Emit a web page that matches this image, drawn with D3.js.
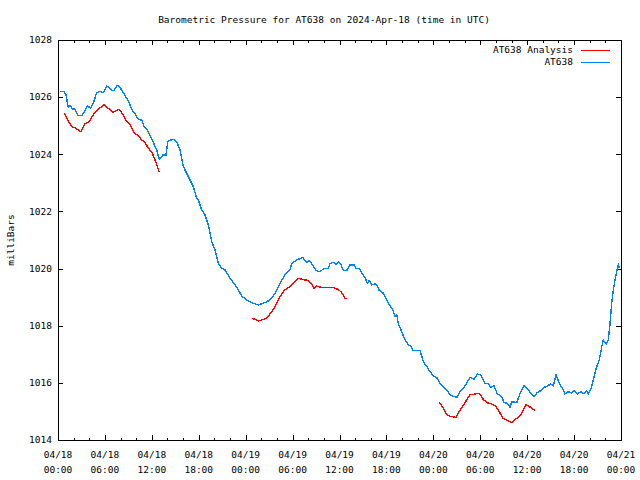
<!DOCTYPE html>
<html><head><meta charset="utf-8">
<script src="https://cdn.jsdelivr.net/npm/d3@7/dist/d3.min.js"></script>
<style>body{margin:0;background:#fff}svg{display:block}</style>
</head><body><svg id="c" width="640" height="480"></svg>
<script>
const title = "Barometric Pressure for AT638 on 2024-Apr-18 (time in UTC)";
const yLabel = "milliBars";
const seriesNames = ["AT638 Analysis", "AT638"];
const seriesColors = ["#ff0000", "#0080ff"];
const xTickHours = [0, 6, 12, 18, 24, 30, 36, 42, 48, 54, 60, 66, 72];
const xTickDates = ["04/18","04/18","04/18","04/18","04/19","04/19","04/19","04/19","04/20","04/20","04/20","04/20","04/21"];
const xTickTimes = ["00:00","06:00","12:00","18:00","00:00","06:00","12:00","18:00","00:00","06:00","12:00","18:00","00:00"];
const yTicks = [1014, 1016, 1018, 1020, 1022, 1024, 1026, 1028];

// AT638 observations: hours since 2024-04-18 00:00 UTC, pressure in mb
const obsHours = [0.26,0.77,1.02,1.32,1.53,1.83,2.14,2.60,3.03,3.45,3.75,4.18,4.51,4.95,5.37,5.79,6.23,6.43,6.87,7.16,7.58,7.93,8.35,8.70,8.99,9.43,9.85,10.27,10.71,11.00,11.42,11.86,12.28,12.62,12.96,13.39,13.81,14.03,14.41,14.75,15.18,15.60,16.03,16.46,16.88,17.30,17.74,17.94,18.38,18.80,19.22,19.66,20.08,20.50,20.94,21.36,22.00,22.64,23.06,23.49,24.13,24.98,25.62,26.48,27.11,27.75,28.39,29.03,29.67,29.89,30.53,31.30,31.81,32.14,32.65,33.00,33.51,34.02,34.57,34.79,35.21,35.56,35.85,36.16,36.49,36.92,37.35,37.86,38.11,38.54,38.84,39.27,39.56,39.81,40.12,40.54,40.84,41.09,41.53,41.82,42.46,42.81,43.10,43.32,43.52,43.96,44.38,44.80,45.11,45.37,46.30,46.72,47.16,47.58,48.00,48.43,48.86,49.28,49.71,50.05,50.56,51.07,51.42,52.05,52.69,53.20,53.63,54.06,54.61,55.03,55.34,55.76,56.19,56.75,57.04,57.46,57.81,58.03,58.67,59.09,59.60,60.02,60.46,60.88,61.30,61.74,62.16,62.58,63.01,63.35,63.69,64.12,64.55,64.84,65.27,65.70,65.99,66.42,66.85,67.27,67.62,67.82,68.26,68.55,68.90,69.23,69.54,69.74,70.09,70.38,70.60,70.81,71.02,71.24,71.45,71.66,71.79];
const obsValues = [1026.20,1026.20,1026.08,1025.64,1025.71,1025.59,1025.59,1025.35,1025.35,1025.53,1025.70,1025.61,1025.78,1026.16,1026.20,1026.16,1026.39,1026.37,1026.23,1026.23,1026.41,1026.34,1026.16,1025.99,1025.88,1025.57,1025.41,1025.22,1025.20,1024.97,1024.85,1024.62,1024.36,1024.15,1023.82,1023.97,1023.97,1024.44,1024.50,1024.52,1024.44,1024.15,1023.57,1023.33,1023.10,1022.87,1022.46,1022.40,1022.05,1021.88,1021.53,1020.94,1020.65,1020.18,1020.01,1019.95,1019.66,1019.43,1019.25,1019.04,1018.90,1018.78,1018.73,1018.81,1018.90,1019.13,1019.48,1019.78,1019.95,1020.18,1020.30,1020.39,1020.21,1020.28,1020.09,1019.93,1019.89,1020.01,1020.01,1020.18,1020.21,1020.16,1020.24,1020.16,1019.93,1019.93,1020.13,1020.13,1020.01,1020.01,1019.83,1019.69,1019.48,1019.58,1019.43,1019.46,1019.39,1019.23,1019.16,1019.02,1018.69,1018.55,1018.32,1018.38,1018.08,1017.79,1017.50,1017.33,1017.29,1017.13,1017.13,1016.74,1016.57,1016.39,1016.24,1016.19,1015.98,1015.87,1015.75,1015.61,1015.52,1015.50,1015.69,1015.89,1016.19,1016.12,1016.31,1016.28,1015.98,1015.98,1015.84,1015.89,1015.61,1015.52,1015.31,1015.28,1015.14,1015.34,1015.31,1015.63,1015.89,1015.81,1015.63,1015.52,1015.66,1015.73,1015.84,1015.89,1015.96,1015.89,1016.28,1015.98,1015.78,1015.61,1015.69,1015.64,1015.73,1015.61,1015.69,1015.61,1015.73,1015.61,1015.87,1016.22,1016.57,1016.80,1017.27,1017.50,1017.36,1017.50,1018.08,1018.78,1019.25,1019.60,1019.89,1020.13,1020.01];

// AT638 Analysis: null values mark gaps between segments
const anaHours = [0.81,1.11,1.75,2.30,2.90,3.45,4.00,4.60,5.28,5.88,6.43,7.00,7.42,7.84,8.35,8.79,9.12,9.72,10.27,10.71,11.13,11.55,11.98,12.41,12.96,18.0,24.85,25.62,26.05,26.69,27.33,27.75,28.39,28.90,29.45,30.09,30.73,31.30,32.01,32.45,32.74,33.00,33.73,35.13,35.85,36.28,36.71,37.00,42.0,48.77,49.20,49.79,50.35,50.90,51.42,52.05,52.69,53.33,53.88,54.39,54.83,55.47,56.02,56.44,56.88,57.39,58.03,58.67,59.18,59.86,60.46,61.01];
const anaValues = [1025.43,1025.26,1024.97,1024.91,1024.79,1025.06,1025.14,1025.43,1025.61,1025.73,1025.61,1025.47,1025.53,1025.57,1025.38,1025.14,1025.08,1024.76,1024.64,1024.50,1024.41,1024.21,1024.09,1023.80,1023.37,null,1018.26,1018.17,1018.20,1018.26,1018.49,1018.67,1019.02,1019.23,1019.33,1019.48,1019.66,1019.62,1019.58,1019.45,1019.31,1019.39,1019.34,1019.34,1019.27,1019.16,1018.96,1018.96,null,1015.33,1015.14,1014.86,1014.82,1014.79,1015.05,1015.31,1015.58,1015.61,1015.63,1015.42,1015.31,1015.26,1015.17,1014.99,1014.76,1014.70,1014.61,1014.76,1014.88,1015.23,1015.14,1015.03];

const W = 640, H = 480;
const L = 58, R = 621, T = 40, B = 440;
const FONT = "'DejaVu Sans Mono', 'Liberation Mono', monospace";
const svg = d3.select("#c");
svg.append("rect").attr("width", W).attr("height", H).attr("fill", "#fff");

const x = d3.scaleLinear().domain([0, 72]).range([L, R]);
const y = d3.scaleLinear().domain([1014, 1028]).range([B, T]);

const minorHours = d3.range(0, 73, 2);

// ticks (inward, mirrored)
svg.append("g").attr("transform", `translate(0,${B})`)
  .call(d3.axisBottom(x).tickValues(minorHours).tickSize(-2.5).tickFormat(""));
svg.append("g").attr("transform", `translate(0,${B})`)
  .call(d3.axisBottom(x).tickValues(xTickHours).tickSize(-5).tickFormat(""));
svg.append("g").attr("transform", `translate(0,${T})`)
  .call(d3.axisTop(x).tickValues(minorHours).tickSize(-2.5).tickFormat(""));
svg.append("g").attr("transform", `translate(0,${T})`)
  .call(d3.axisTop(x).tickValues(xTickHours).tickSize(-5).tickFormat(""));
svg.append("g").attr("transform", `translate(${L},0)`)
  .call(d3.axisLeft(y).tickValues(yTicks).tickSize(-5).tickFormat(""));
svg.append("g").attr("transform", `translate(${R},0)`)
  .call(d3.axisRight(y).tickValues(yTicks).tickSize(-5).tickFormat(""));
svg.selectAll(".domain").remove();
svg.selectAll(".tick line").attr("stroke", "#000").attr("shape-rendering", "crispEdges");

// frame
svg.append("rect").attr("x", L).attr("y", T).attr("width", R - L).attr("height", B - T)
  .attr("fill", "none").attr("stroke", "#000").attr("shape-rendering", "crispEdges");

// y tick labels
svg.append("g").selectAll("text").data(yTicks).join("text")
  .attr("x", L - 6).attr("y", d => y(d)).attr("dy", "0.35em")
  .attr("text-anchor", "end").attr("font-family", FONT).attr("font-size", 9.5)
  .text(d => d);

// x tick labels (two lines)
const xl = svg.append("g").selectAll("text").data(xTickHours).join("text")
  .attr("text-anchor", "middle").attr("font-family", FONT).attr("font-size", 9.5);
xl.append("tspan").attr("x", d => x(d)).attr("y", 458).text((d, i) => xTickDates[i]);
xl.append("tspan").attr("x", d => x(d)).attr("y", 473).text((d, i) => xTickTimes[i]);

// title
svg.append("text").attr("x", 324).attr("y", 23).attr("text-anchor", "middle")
  .attr("font-family", FONT).attr("font-size", 9.5).text(title);

// y label
svg.append("text").attr("transform", "translate(14,240) rotate(-90)")
  .attr("text-anchor", "middle").attr("font-family", FONT).attr("font-size", 9.5).text(yLabel);

// lines
const obs = obsHours.map((h, i) => ({ h, v: obsValues[i] }));
const ana = anaHours.map((h, i) => ({ h, v: anaValues[i] }));
const line = d3.line().defined(d => d.v != null).x(d => x(d.h)).y(d => y(d.v));

svg.append("path").datum(obs).attr("d", line).attr("fill", "none")
  .attr("stroke", seriesColors[1]).attr("stroke-width", 1.4).attr("shape-rendering", "crispEdges");
svg.append("path").datum(ana).attr("d", line).attr("fill", "none")
  .attr("stroke", seriesColors[0]).attr("stroke-width", 1.4).attr("shape-rendering", "crispEdges");

// legend
const leg = svg.append("g");
seriesNames.forEach((name, i) => {
  const ly = 50 + i * 12;
  leg.append("text").attr("x", 573).attr("y", ly).attr("dy", "0.35em")
    .attr("text-anchor", "end").attr("font-family", FONT).attr("font-size", 9.5).text(name);
  leg.append("line").attr("x1", 581).attr("x2", 610).attr("y1", ly).attr("y2", ly)
    .attr("stroke", seriesColors[i]).attr("stroke-width", 1).attr("shape-rendering", "crispEdges");
});
</script></body></html>
